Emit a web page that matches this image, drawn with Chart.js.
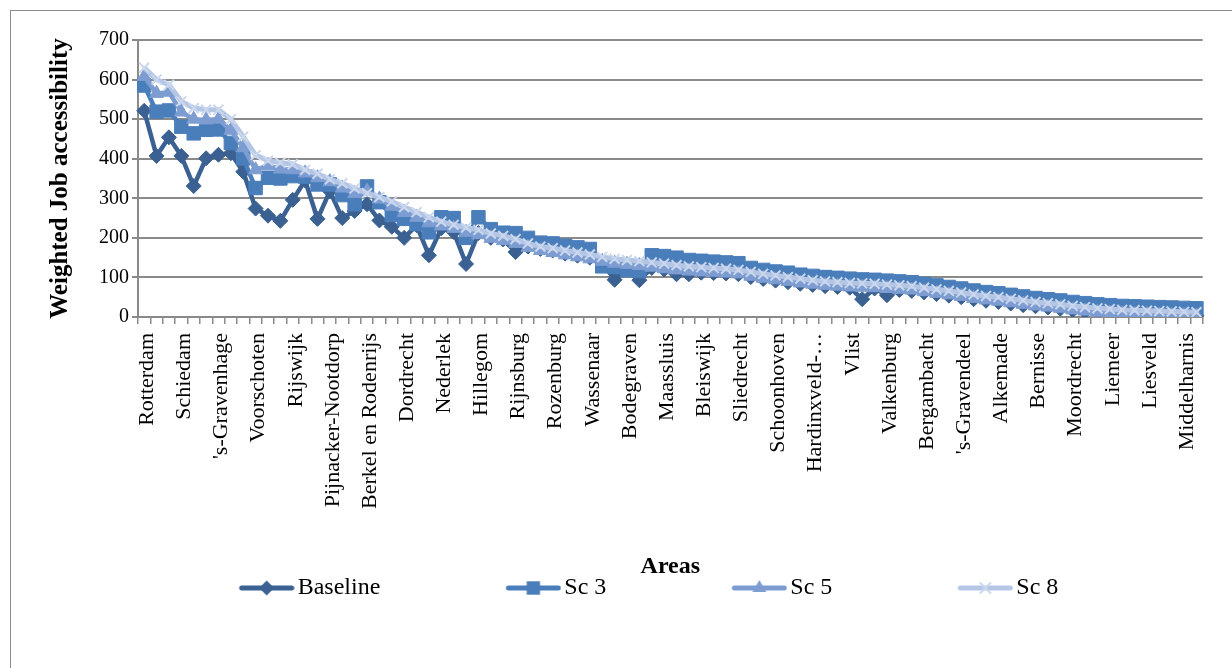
<!DOCTYPE html>
<html><head><meta charset="utf-8">
<script src="https://cdn.jsdelivr.net/npm/chart.js@4.4.0/dist/chart.umd.min.js"></script>
<style>html,body{margin:0;padding:0;background:#fff;}canvas{display:block;}</style>
</head><body>
<canvas id="c" width="1232" height="668"></canvas>
<script>
// Area names shown on the axis (every third category is labelled)
const areaLabels = ["Rotterdam","Schiedam","'s-Gravenhage","Voorschoten","Rijswijk","Pijnacker-Nootdorp","Berkel en Rodenrijs","Dordrecht","Nederlek","Hillegom","Rijnsburg","Rozenburg","Wassenaar","Bodegraven","Maassluis","Bleiswijk","Sliedrecht","Schoonhoven","Hardinxveld-…","Vlist","Valkenburg","Bergambacht","'s-Gravendeel","Alkemade","Bernisse","Moordrecht","Liemeer","Liesveld","Middelharnis"];
const categoryCount = 86;

const baseline = [521,407,454,407,331,401,410,414,367,274,
  256,243,296,345,248,318,250,268,285,244,
  228,200,232,156,224,215,134,212,200,196,
  164,178,172,168,160,155,150,138,94,128,
  93,124,120,108,108,112,111,110,108,
  101,96,92,88,84,81,78,76,74,45,72,55,68,66,62,58,54,50,45,41,38,34,30,27,24,21,17,14,11,9,7,6,5,4,4,3,3];
const sc3 = [585,519,522,481,464,473,474,440,401,326,
  352,350,356,355,335,335,308,285,330,290,
  258,248,235,214,252,250,200,252,222,213,
  212,200,188,186,180,176,172,128,126,118,
  116,156,154,150,144,142,140,138,136,
  124,119,115,112,107,104,101,99,97,95,94,92,90,88,84,80,76,72,67,63,60,56,52,48,45,42,38,35,32,30,28,27,26,25,24,23,22];
const sc5 = [608,565,568,518,500,498,500,472,428,372,
  383,374,372,364,352,342,326,312,318,298,
  280,264,252,238,230,224,214,208,199,193,
  186,176,168,163,157,152,147,141,136,133,
  130,126,122,119,116,114,113,111,109,
  103,98,94,90,86,83,80,78,76,75,74,72,70,68,64,60,56,52,47,43,40,36,32,28,25,22,18,15,12,10,8,7,6,5,4,4,3];
const sc8 = [630,600,587,545,528,524,524,500,456,409,
  395,390,386,372,362,348,338,325,313,303,
  292,278,265,252,241,233,226,220,211,205,
  197,186,178,174,168,163,158,152,147,144,
  141,138,135,131,128,126,124,122,119,
  114,109,105,101,97,93,90,88,86,85,84,82,80,78,74,70,66,62,57,53,50,46,42,38,35,32,28,25,22,20,18,17,16,15,14,13,12];
const seriesNames = ["Baseline","Sc 3","Sc 5","Sc 8"];
const yTicks = [0,100,200,300,400,500,600,700];

const categories = Array.from({length: categoryCount}, (_, i) => i % 3 === 0 ? (areaLabels[i / 3] || '') : '');

const FONT = "'Liberation Serif', 'DejaVu Serif', serif";
const GRID = '#8a8a8a';
const colors = ['#3a6192', '#4a7ebb', '#7d9dd2', '#b4c6e6'];
const markerColors = ['#3a6192', '#4a7ebb', '#7d9dd2', '#cbd7ec'];
const shapes = ['rectRot', 'rect', 'triangle', 'crossRot'];

function drawMarker(g, shape, x, y, color) {
  g.fillStyle = color; g.strokeStyle = color;
  g.beginPath();
  if (shape === 'rectRot') {
    const r = 7.5; g.moveTo(x, y - r); g.lineTo(x + r, y); g.lineTo(x, y + r); g.lineTo(x - r, y); g.closePath(); g.fill();
  } else if (shape === 'rect') {
    const s = 6.7; g.rect(x - s, y - s, 2 * s, 2 * s); g.fill();
  } else if (shape === 'triangle') {
    const r = 8; g.moveTo(x, y - r); g.lineTo(x + r * 0.866, y + r / 2); g.lineTo(x - r * 0.866, y + r / 2); g.closePath(); g.fill();
  } else {
    const s = 5; g.lineWidth = 2; g.moveTo(x - s, y - s); g.lineTo(x + s, y + s); g.moveTo(x + s, y - s); g.lineTo(x - s, y + s); g.stroke();
  }
}
const BOXW = 172, EXT = 9;
function makeIcon(i) {
  const W = BOXW + 2 * EXT, H = 24;
  const c = document.createElement('canvas'); c.width = W; c.height = H;
  const g = c.getContext('2d');
  const x2 = W, x1 = W - 56, y = H / 2;
  g.strokeStyle = colors[i]; g.lineWidth = 5; g.lineCap = 'round';
  g.beginPath(); g.moveTo(x1 + 3, y); g.lineTo(x2 - 3, y); g.stroke();
  drawMarker(g, shapes[i], (x1 + x2) / 2, y, markerColors[i]);
  return c;
}
const icons = [0, 1, 2, 3].map(makeIcon);

const series = [baseline, sc3, sc5, sc8];
const datasets = series.map((d, i) => ({
  label: seriesNames[i],
  data: d,
  borderColor: colors[i],
  backgroundColor: colors[i],
  borderWidth: i === 3 ? 5 : 4.5,
  tension: 0,
  pointStyle: shapes[i],
  pointRadius: [7.5, 9.5, 8, 7][i],
  pointBackgroundColor: markerColors[i],
  pointBorderColor: markerColors[i],
  pointBorderWidth: i === 3 ? 2 : 1,
  order: 3 - i
}));

const bgPlugin = {
  id: 'bg',
  beforeDraw(chart) {
    const g = chart.ctx;
    g.save();
    g.fillStyle = '#fff'; g.fillRect(0, 0, chart.width, chart.height);
    g.strokeStyle = '#8c8c8c'; g.lineWidth = 1;
    g.strokeRect(10.5, 10.5, 1400, 800);
    g.restore();
  }
};
const legendShift = {
  id: 'legendShift',
  afterLayout(chart) {
    if (chart.legend) { chart.legend.left -= 22; chart.legend.right -= 22; }
  }
};

new Chart(document.getElementById('c'), {
  type: 'line',
  data: { labels: categories, datasets },
  options: {
    responsive: false,
    animation: false,
    devicePixelRatio: 1,
    layout: { padding: { left: 10, right: 26, top: 40, bottom: 58 } },
    plugins: {
      tooltip: { enabled: false },
      legend: {
        position: 'bottom',
        align: 'center',
        labels: {
          usePointStyle: true,
          pointStyleWidth: BOXW,
          padding: 0,
          color: '#000',
          font: { size: 24, family: FONT },
          generateLabels(chart) {
            return chart.data.datasets.map((ds, i) => ({
              text: ds.label,
              fillStyle: colors[i],
              strokeStyle: colors[i],
              lineWidth: 0,
              pointStyle: icons[i],
              hidden: !chart.isDatasetVisible(i),
              datasetIndex: i,
              fontColor: '#000'
            }));
          }
        }
      }
    },
    scales: {
      x: {
        type: 'category',
        offset: true,
        afterFit(scale) { scale.height = 259; },
        grid: { offset: true, drawOnChartArea: false, drawTicks: true, tickLength: 7, color: GRID, lineWidth: 1.5 },
        border: { display: true, color: GRID, width: 2 },
        ticks: { autoSkip: false, minRotation: 90, maxRotation: 90, padding: 9, labelOffset: 3, color: '#000', font: { size: 22, family: FONT } },
        title: { display: true, text: 'Areas', color: '#000', padding: 0, font: { size: 24, weight: 'bold', family: FONT, lineHeight: 0.75 } }
      },
      y: {
        min: 0, max: 700,
        afterFit(scale) { scale.width = 128; },
        afterBuildTicks(scale) { scale.ticks = yTicks.map(v => ({ value: v })); },
        grid: { color: GRID, lineWidth: 2, tickLength: 6, drawTicks: true },
        border: { display: true, color: GRID, width: 2 },
        ticks: { padding: 3, color: '#000', font: { size: 20, family: FONT } },
        title: { display: true, text: 'Weighted Job accessibility', color: '#000', padding: { top: 36, bottom: 0 }, font: { size: 25, weight: 'bold', family: FONT, lineHeight: 1.2 } }
      }
    }
  },
  plugins: [bgPlugin, legendShift]
});
</script>
</body></html>
